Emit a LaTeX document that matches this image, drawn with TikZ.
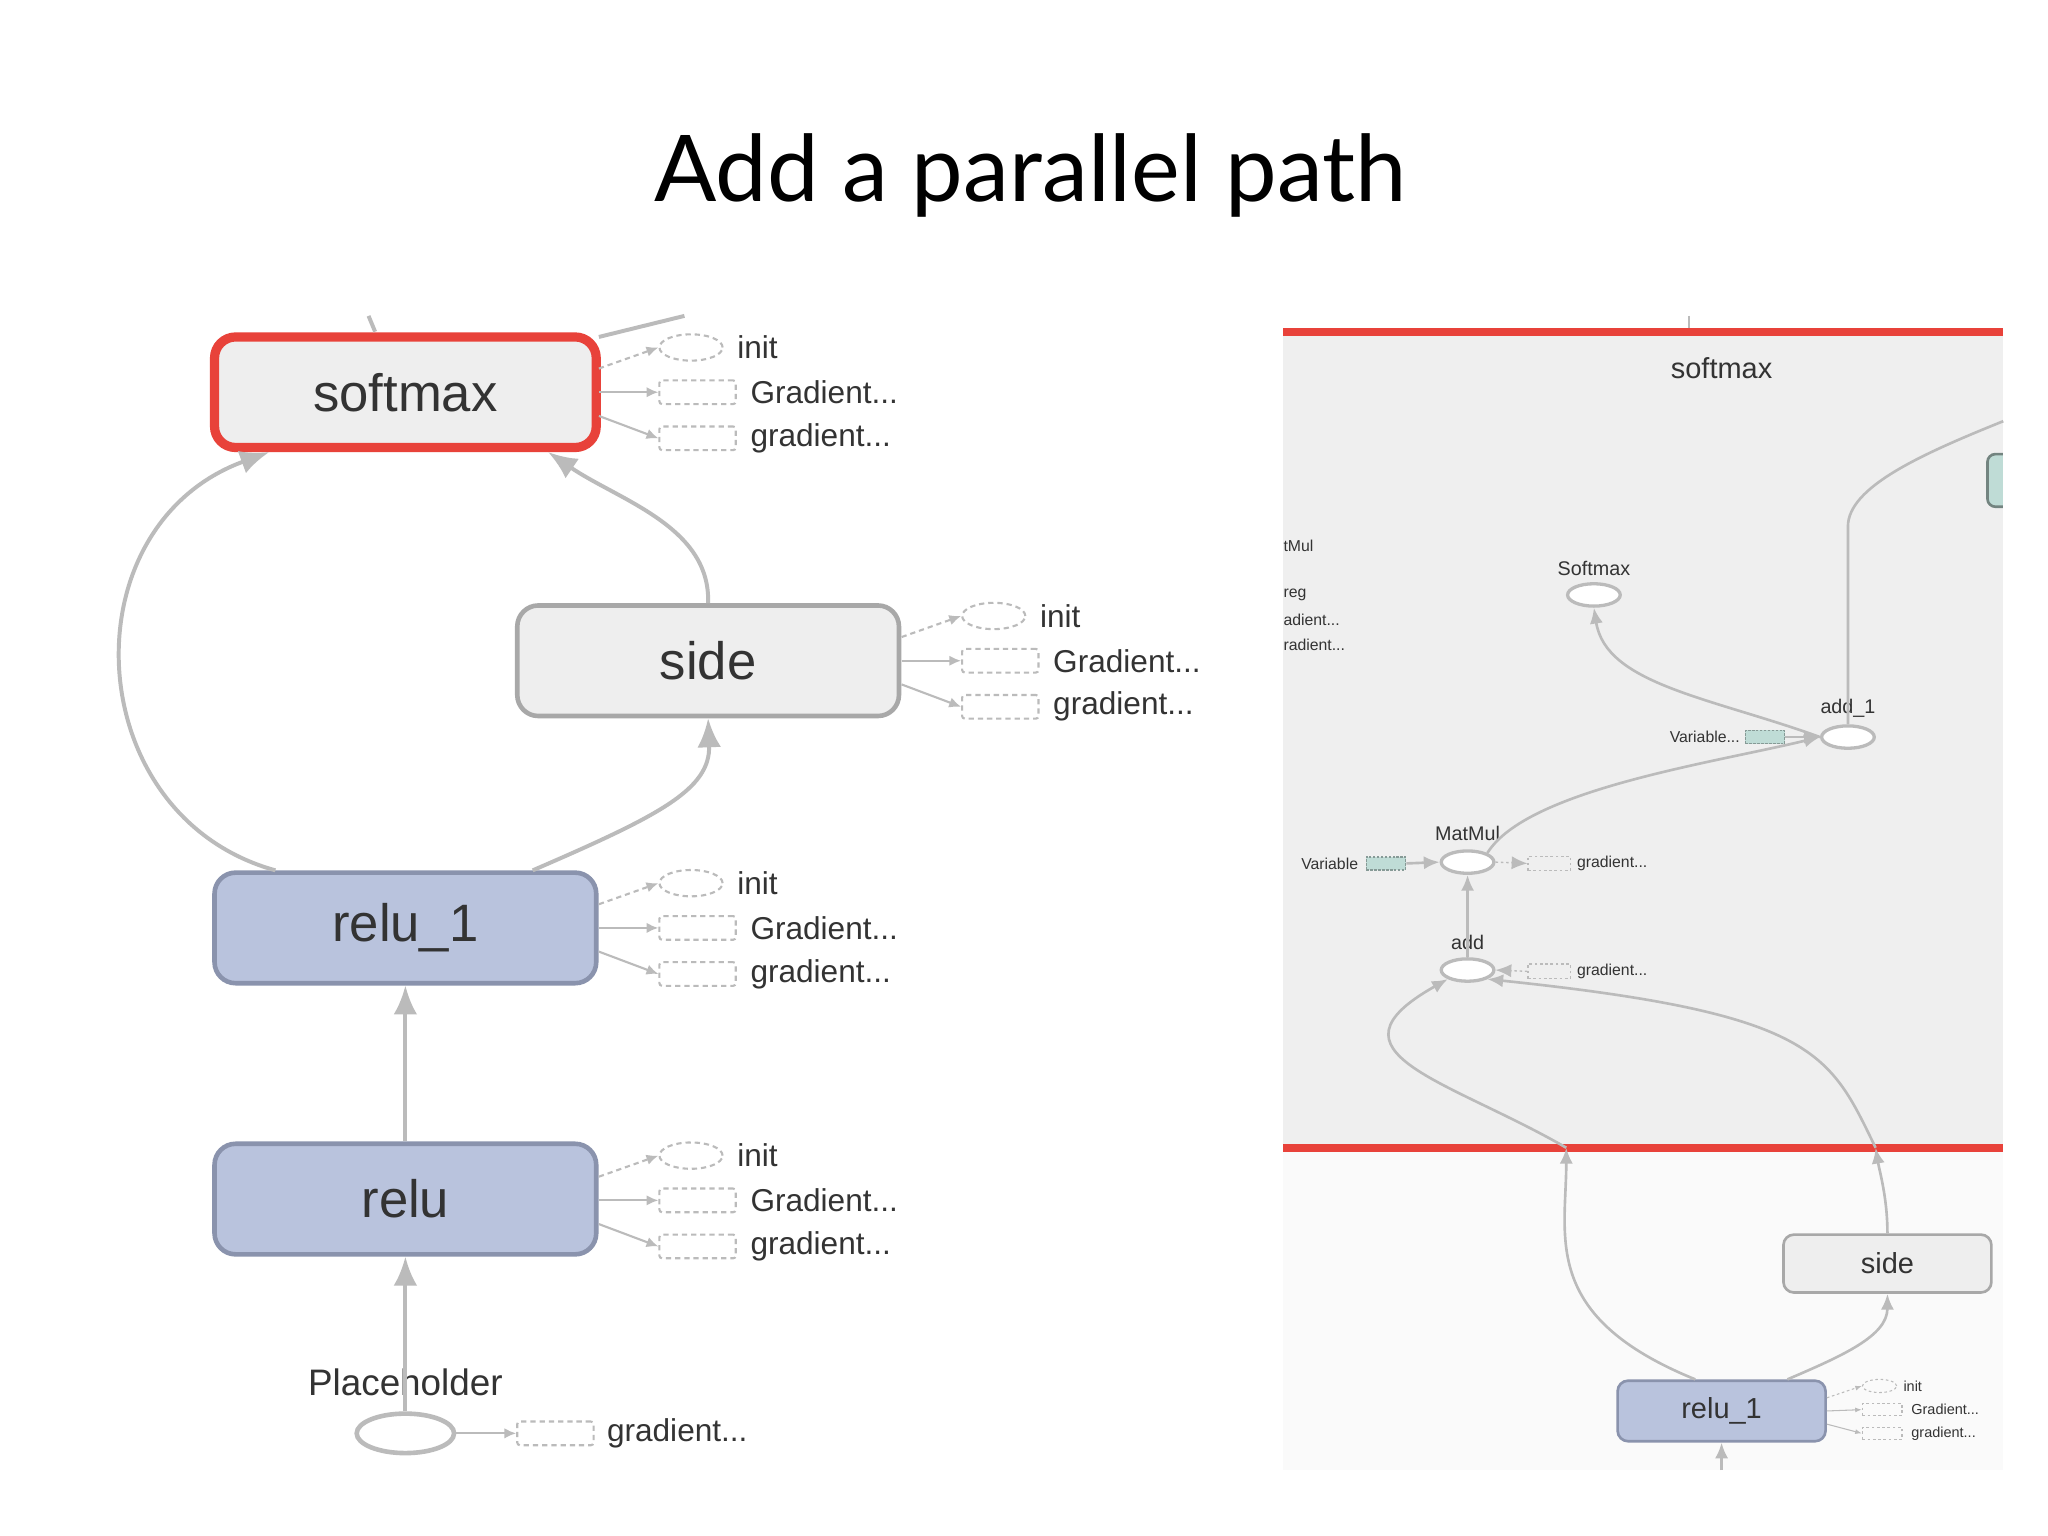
\documentclass[tikz,border=0pt]{standalone}
\usepackage{fontspec}
\setmainfont{Liberation Sans}
\newfontfamily\titlefont{Lato}
\usetikzlibrary{arrows.meta,shapes.geometric,calc}
\definecolor{edge}{HTML}{BBBBBB}
\definecolor{boxgray}{HTML}{EEEEEE}
\definecolor{boxline}{HTML}{A8A8A8}
\definecolor{blue1}{HTML}{B9C3DD}
\definecolor{blueline}{HTML}{8A93AD}
\definecolor{redc}{HTML}{E8423A}
\definecolor{panel}{HTML}{EFEFEF}
\definecolor{teal1}{HTML}{BFDCD6}
\definecolor{txt}{HTML}{333333}
\tikzset{
  big/.style={rectangle,rounded corners=16pt,line width=3.5pt,minimum width=290pt,minimum height=84pt,font=\fontsize{40}{44}\selectfont,text=txt},
  gbox/.style={big,draw=boxline,fill=boxgray},
  bbox/.style={big,draw=blueline,fill=blue1},
  e/.style={draw=edge,line width=3pt,-{Latex[length=22pt,width=18pt]}},
  ae/.style={draw=edge,line width=1.6pt,-{Latex[length=9pt,width=8pt]}},
  dae/.style={ae,dash pattern=on 4pt off 3pt},
  dell/.style={ellipse,draw=edge,line width=1.6pt,dash pattern=on 4pt off 3pt,minimum width=48pt,minimum height=20pt,inner sep=0pt},
  drect/.style={rectangle,draw=edge,line width=1.6pt,dash pattern=on 4pt off 3pt,minimum width=58pt,minimum height=18pt,inner sep=0pt,rounded corners=2pt},
  lbl/.style={font=\fontsize{24}{26}\selectfont,text=txt,anchor=west,inner sep=0pt},
  sell/.style={ellipse,draw=edge,line width=2.5pt,fill=white,minimum width=40pt,minimum height=17pt,inner sep=0pt},
  slbl/.style={font=\fontsize{15}{17}\selectfont,text=txt,inner sep=0pt},
  tlbl/.style={font=\fontsize{12}{14}\selectfont,text=txt,inner sep=0pt},
  se/.style={draw=edge,line width=2pt,-{Latex[length=12pt,width=10pt]}},
  sdrect/.style={rectangle,draw=edge,line width=1pt,dash pattern=on 2pt off 2pt,minimum width=32pt,minimum height=11pt,inner sep=0pt},
  grect/.style={rectangle,draw=teal1!70!black,fill=teal1,line width=1pt,dash pattern=on 2pt off 1pt,minimum width=30pt,minimum height=10pt,inner sep=0pt},
}
% aux group: #1 prefix, #2 x of items, #3 y of init row, #4 source x
\newcommand\auxgrp[4]{%
  \node[dell] (#1i) at (#2,#3) {};
  \node[drect] (#1g) at (#2+5,#3+34) {};
  \node[drect] (#1h) at (#2+5,#3+69) {};
  \node[lbl] (#1il) at (#2+35,#3) {init};
  \node[lbl] (#1gl) at (#2+45,#3+34) {Gradient...};
  \node[lbl] (#1hl) at (#2+45,#3+69) {gradient...};
  \coordinate (#1s1) at (#4,#3+16);
  \coordinate (#1s2) at (#4,#3+34);
  \coordinate (#1s3) at (#4,#3+52);
  \draw[dae] (#1s1) -- (#1i.west);
  \draw[ae] (#1s2) -- (#1g.west);
  \draw[ae] (#1s3) -- (#1h.west);
}
\begin{document}
\begin{tikzpicture}[x=1pt,y=-1pt]
\useasboundingbox (0,0) rectangle (1556,1167);
\fill[white] (0,0) rectangle (1556,1167);
\node[font=\titlefont\fontsize{70}{80}\selectfont,text=black] (title) at (783,133) {Add a parallel path};

% ---------- left panel ----------
\node[gbox,draw=redc,line width=7pt] (softmax) at (308,298) {softmax};
\node[gbox] (side) at (538,502) {side};
\node[bbox] (relu1) at (308,705) {relu\_1};
\node[bbox] (relu) at (308,911) {relu};
\node[ellipse,draw=edge,line width=3.5pt,fill=white,minimum width=74pt,minimum height=30pt] (ph) at (308,1089) {};
\node[font=\fontsize{28}{30}\selectfont,text=txt] (phl) at (308,1050) {Placeholder};
\node[drect] (phg) at (422,1089) {};
\node[lbl] (phgl) at (461,1089) {gradient...};
\draw[ae] (ph.east) -- (phg.west);

\coordinate (t1) at (280,240);
\coordinate (t2) at (520,240);
\draw[draw=edge,line width=3pt] (t1) -- (285,252);
\draw[draw=edge,line width=3pt] (455,256) -- (t2);

\draw[e] ($(relu1.north west)+(48,0)$) .. controls (60,620) and (50,400) .. ($(softmax.south west)+(45,0)$);
\draw[e] (side.north) .. controls (540,400) and (470,380) .. ($(softmax.south east)+(-40,0)$);
\draw[e] ($(relu1.north east)+(-50,0)$) .. controls (500,620) and (540,600) .. (side.south);
\draw[e] (relu.north) -- (relu1.south);
\draw[e] (ph.north) -- (relu.south);

\auxgrp{a}{525}{264}{455}
\auxgrp{b}{755}{468}{685}
\auxgrp{c}{525}{671}{455}
\auxgrp{d}{525}{878}{455}

% ---------- right panel ----------
\fill[panel] (975,252) rectangle (1522,872);
\fill[black!2] (975,872) rectangle (1522,1117);
\draw[redc,line width=6pt] (975,252) -- (1522,252);
\draw[redc,line width=6pt] (975,872) -- (1522,872);
\draw[edge,line width=1.5pt] (1283,240) -- (1283,249);
\node[font=\fontsize{22}{24}\selectfont,text=txt] (rsm) at (1308,280) {softmax};
\node[rectangle,rounded corners=6pt,draw=teal1!60!black,fill=teal1,line width=2pt,minimum width=40pt,minimum height=40pt] (tealbox) at (1530,365) {};
\fill[white] (1522,240) rectangle (1556,1167);

\node[tlbl,anchor=west] (p1) at (975,415) {tMul};
\node[tlbl,anchor=west] (p2) at (975,452) {reg};
\node[tlbl,anchor=west] (p3) at (975,471) {adient...};
\node[tlbl,anchor=west] (p4) at (975,490) {radient...};

\node[sell] (sm) at (1211,452) {};
\node[slbl] (sml) at (1211,432) {Softmax};
\node[sell] (add1) at (1404,560) {};
\node[slbl] (add1l) at (1404,538) {add\_1};
\node[grect] (v1g) at (1341,560) {};
\node[tlbl,anchor=east] (v1l) at (1322,560) {Variable...};
\node[sell] (mm) at (1115,655) {};
\node[slbl] (mml) at (1115,633) {MatMul};
\node[grect] (v2g) at (1053,656) {};
\node[tlbl,anchor=east] (v2l) at (1032,656) {Variable};
\node[sdrect] (mmg) at (1177,656) {};
\node[tlbl,anchor=west] (mmgl) at (1198,656) {gradient...};
\node[sell] (add) at (1115,737) {};
\node[slbl] (addl) at (1115,716) {add};
\node[sdrect] (addg) at (1177,738) {};
\node[tlbl,anchor=west] (addgl) at (1198,738) {gradient...};

\draw[se] (v1g.east) -- (add1.west);
\draw[se] (v2g.east) -- (mm.west);
\draw[se,line width=1pt,dash pattern=on 2pt off 2pt] (mm.east) -- (mmg.west);
\draw[se,line width=1pt,dash pattern=on 2pt off 2pt] (addg.west) -- (add.east);
\draw[se] (add.north) -- (mm.south);
\draw[se] (mm.north east) .. controls (1160,600) and (1300,580) .. (add1.west);
\draw[se] (add1.west) .. controls (1300,530) and (1220,520) .. (sm.south);
\coordinate (rtop) at (1522,320);
\draw[draw=edge,line width=2pt] (add1.north) -- (1404,400) .. controls (1404,370) and (1460,345) .. (rtop);

\coordinate (cL) at (1190,872);
\coordinate (cR) at (1425,872);
\draw[se] (cL) .. controls (1100,820) and (1000,800) .. (add.south west);
\draw[se] (cR) .. controls (1390,800) and (1380,770) .. (add.south east);

\node[rectangle,rounded corners=8pt,draw=boxline,fill=boxgray,line width=2pt,minimum width=158pt,minimum height=44pt,font=\fontsize{22}{24}\selectfont,text=txt] (rside) at (1434,960) {side};
\node[rectangle,rounded corners=8pt,draw=blueline,fill=blue1,line width=2pt,minimum width=158pt,minimum height=46pt,font=\fontsize{22}{24}\selectfont,text=txt] (rrelu) at (1308,1072) {relu\_1};
\draw[se] ($(rrelu.north west)+(60,0)$) .. controls (1170,1000) and (1190,940) .. (cL);
\draw[se] (rside.north) .. controls (1434,910) and (1428,890) .. (cR);
\draw[se] ($(rrelu.north east)+(-30,0)$) .. controls (1400,1030) and (1434,1015) .. (rside.south);
\coordinate (rbot) at (1308,1117);
\draw[se] (rbot) -- (rrelu.south);

\node[ellipse,draw=edge,line width=0.8pt,dash pattern=on 2pt off 2pt,minimum width=26pt,minimum height=10pt,inner sep=0pt] (ri) at (1428,1053) {};
\node[sdrect,minimum width=30pt,minimum height=9pt] (rg) at (1430,1071) {};
\node[sdrect,minimum width=30pt,minimum height=9pt] (rh) at (1430,1089) {};
\node[tlbl,anchor=west,font=\fontsize{11}{12}\selectfont] (ril) at (1446,1053) {init};
\node[tlbl,anchor=west,font=\fontsize{11}{12}\selectfont] (rgl) at (1452,1071) {Gradient...};
\node[tlbl,anchor=west,font=\fontsize{11}{12}\selectfont] (rhl) at (1452,1089) {gradient...};
\draw[draw=edge,line width=0.8pt,dash pattern=on 2pt off 2pt,-{Latex[length=5pt]}] (rrelu.east) ++(0,-10) -- (ri.west);
\draw[draw=edge,line width=0.8pt,-{Latex[length=5pt]}] (rrelu.east) -- (rg.west);
\draw[draw=edge,line width=0.8pt,-{Latex[length=5pt]}] (rrelu.east) ++(0,10) -- (rh.west);
\end{tikzpicture}
\end{document}
